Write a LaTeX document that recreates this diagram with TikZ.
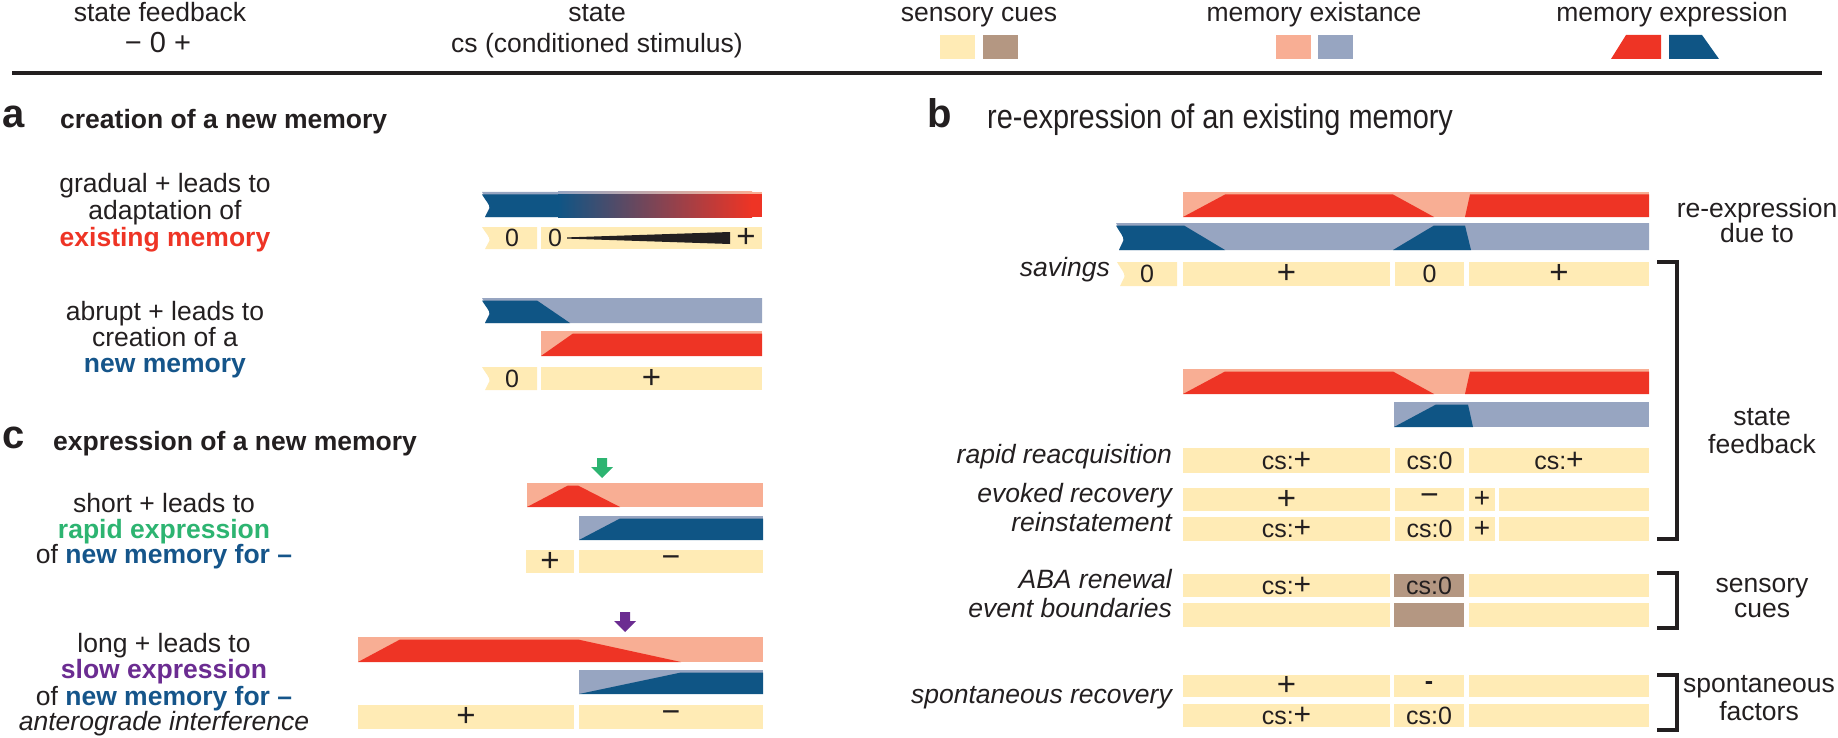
\documentclass[tikz,border=0pt]{standalone}
\usepackage{fontspec}
\setmainfont{Liberation Sans}
\newfontfamily\narrowfont[FakeStretch=0.85]{Liberation Sans}
\definecolor{beige}{HTML}{FFEBB5}
\definecolor{cuebrown}{HTML}{B49782}
\definecolor{salmon}{HTML}{F8AE94}
\definecolor{bgray}{HTML}{97A5C1}
\definecolor{memred}{HTML}{EE3425}
\definecolor{memblue}{HTML}{0F5585}
\definecolor{txtblue}{HTML}{15558A}
\definecolor{txtgreen}{HTML}{2DB471}
\definecolor{txtpurple}{HTML}{6B2C91}
\definecolor{ink}{HTML}{231F20}
\newcommand\fs[1]{\fontsize{#1}{#1}\selectfont}
\newcommand\bigplus{{\fs{33}+}}
\newcommand\bigminus{{\fs{32}−}}
\newcommand\csplus{cs:{\fs{30}+}}
% notched left edge from (x,top) down to (x+3,bottom)
\newcommand\npath[3]{(#1,#2) .. controls ({#1+4},{#2+0.3*(#3-#2)}) and ({#1+8},{#2+0.45*(#3-#2)}) .. ({#1+7.5},{#2+0.62*(#3-#2)}) .. controls ({#1+6},{#2+0.82*(#3-#2)}) .. ({#1+3},#3)}
% cue box with label: [colour]{x0}{y0}{x1}{y1}{name}{text}
\newcommand\cbox[7][beige]{\fill[#1] (#2,#3) rectangle (#4,#5); \node[boxlbl] (#6) at ({(#2+#4)/2},{(#3+#5)/2}) {#7};}
\tikzset{
  txt/.style={inner sep=0pt, anchor=base, text=ink, font=\fs{26.5}},
  hdr/.style={inner sep=0pt, anchor=base west, text=ink, font=\fs{26.5}\bfseries},
  plet/.style={inner sep=0pt, anchor=base west, text=ink, font=\fs{40}\bfseries},
  lbl/.style={inner sep=0pt, anchor=mid east, text=ink, font=\fs{26.5}\itshape},
  boxlbl/.style={inner sep=0pt, anchor=center, text=ink, font=\fs{25}},
  brk/.style={draw=ink, line width=4pt, line join=miter},
}
\begin{document}
\begin{tikzpicture}[x=1pt,y=-1pt]
\useasboundingbox (0,0) rectangle (1838,738);
% ---------------- legend ----------------
\node[txt] (lsf) at (160,22) {state feedback};
\node[txt,font=\fs{29}] (lsfv) at (158,53) {− 0 +};
\node[txt] (lst) at (597,22) {state};
\node[txt] (lcs) at (597,53) {cs (conditioned stimulus)};
\node[txt] (lsc) at (979,22) {sensory cues};
\fill[beige] (940,35) rectangle (975,59);
\fill[cuebrown] (983,35) rectangle (1018,59);
\node[txt] (lme) at (1314,22) {memory existance};
\fill[salmon] (1276,35) rectangle (1311,59);
\fill[bgray] (1318,35) rectangle (1353,59);
\node[txt] (lmx) at (1672,22) {memory expression};
\fill[memred] (1611,59) -- (1626,35) -- (1661,35) -- (1661,59) -- cycle;
\fill[memblue] (1669,35) -- (1702,35) -- (1719,59) -- (1669,59) -- cycle;
\draw[line width=4pt, ink] (12,73) -- (1822,73);
% ---------------- panel a ----------------
\node[plet] (pa) at (2,128) {a};
\node[hdr] (ha) at (60,129) {creation of a new memory};
\node[txt] (a1) at (165,193) {gradual + leads to};
\node[txt] (a2) at (165,219) {adaptation of};
\node[txt,font=\fs{26.5}\bfseries,text=memred] (a3) at (165,246) {existing memory};
\node[txt] (a4) at (165,320) {abrupt + leads to};
\node[txt] (a5) at (165,346) {creation of a};
\node[txt,font=\fs{26.5}\bfseries,text=txtblue] (a6) at (165,372) {new memory};
% gradient bar
\fill[bgray] \npath{482}{192}{217} -- (560,217) -- (560,192) -- cycle;
\shade[left color=bgray, right color=salmon] (558,192) rectangle (752,195);
\fill[salmon] (751,192) rectangle (762,195);
\fill[memblue] \npath{482}{194.5}{217} -- (560,217) -- (560,194.5) -- cycle;
\shade[left color=memblue, right color=memred] (558,194.5) rectangle (752,217);
\fill[memred] (751,194.5) rectangle (762,217);
\fill[beige] \npath{482}{227}{249} -- (537,249) -- (537,227) -- cycle;
\node[boxlbl] (ag0) at (512,238) {0};
\fill[beige] (541,227) rectangle (762,249);
\node[boxlbl] (ag1) at (555,238) {0};
\fill[ink] (567,237.4) -- (730,232) -- (730,244) -- (567,238.6) -- cycle;
\node[boxlbl] (ag2) at (746,238) {\bigplus};
% abrupt
\fill[bgray] \npath{482}{298}{323} -- (762,323) -- (762,298) -- cycle;
\fill[memblue] \npath{482}{300.5}{323} -- (570,323) -- (537,300.5) -- cycle;
\fill[salmon] (541,331) rectangle (762,356);
\fill[memred] (541,356) -- (573,333.5) -- (762,333.5) -- (762,356) -- cycle;
\fill[beige] \npath{482}{367}{390} -- (537,390) -- (537,367) -- cycle;
\node[boxlbl] (ab0) at (512,378.5) {0};
\cbox{541}{367}{762}{390}{ab1}{\bigplus}
% ---------------- panel c ----------------
\node[plet] (pc) at (2,448) {c};
\node[hdr] (hc) at (53,450) {expression of a new memory};
\node[txt] (c1) at (164,512) {short + leads to};
\node[txt,font=\fs{26.5}\bfseries,text=txtgreen] (c2) at (164,538) {rapid expression};
\node[txt] (c3) at (164,563) {of \textbf{\color{txtblue}new memory for –}};
\node[txt] (c4) at (164,652) {long + leads to};
\node[txt,font=\fs{26.5}\bfseries,text=txtpurple] (c5) at (164,678) {slow expression};
\node[txt] (c6) at (164,705) {of \textbf{\color{txtblue}new memory for –}};
\node[txt,font=\fs{26.5}\itshape] (c7) at (164,730) {anterograde interference};
% short
\fill[txtgreen] (597,458) -- (607,458) -- (607,467) -- (613,467) -- (602,478) -- (591,467) -- (597,467) -- cycle;
\fill[salmon] (527,483) rectangle (763,507);
\fill[memred] (527,507) -- (568,485.5) -- (578,485.5) -- (620,507) -- cycle;
\fill[bgray] (579,516) rectangle (763,540);
\fill[memblue] (579,540) -- (620,518.5) -- (763,518.5) -- (763,540) -- cycle;
\cbox{526}{550}{574}{573}{cs1}{\bigplus}
\cbox{579}{550}{763}{573}{cs2}{\bigminus}
% long
\fill[txtpurple] (620,612) -- (630,612) -- (630,621) -- (636,621) -- (625,632) -- (614,621) -- (620,621) -- cycle;
\fill[salmon] (358,637) rectangle (763,662);
\fill[memred] (358,662) -- (400,639.5) -- (578,639.5) -- (681,662) -- cycle;
\fill[bgray] (579,670) rectangle (763,694);
\fill[memblue] (579,694) -- (681,672.5) -- (763,672.5) -- (763,694) -- cycle;
\cbox{358}{705}{574}{729}{cl1}{\bigplus}
\cbox{579}{705}{763}{729}{cl2}{\bigminus}
% ---------------- panel b ----------------
\node[plet] (pb) at (927,128) {b};
\node[txt,anchor=base west,font=\narrowfont\fs{34}] (hb) at (987,129) {re-expression of an existing memory};
\node[txt] (r1) at (1757,217) {re-expression};
\node[txt] (r2) at (1757,242) {due to};
\node[txt] (r3) at (1762,425) {state};
\node[txt] (r4) at (1762,453) {feedback};
\node[txt] (r5) at (1762,592) {sensory};
\node[txt] (r6) at (1762,617) {cues};
\node[txt] (r7) at (1759,692) {spontaneous};
\node[txt] (r8) at (1759,720) {factors};
\draw[brk] (1657,262) -- (1677,262) -- (1677,539) -- (1657,539);
\draw[brk] (1657,573) -- (1677,573) -- (1677,628) -- (1657,628);
\draw[brk] (1657,675) -- (1677,675) -- (1677,730) -- (1657,730);
% group 1
\fill[salmon] (1183,192) rectangle (1649,217);
\fill[memred] (1183,217) -- (1225,194.5) -- (1393,194.5) -- (1434,217) -- cycle;
\fill[memred] (1465,217) -- (1470,194.5) -- (1649,194.5) -- (1649,217) -- cycle;
\fill[bgray] \npath{1116}{223}{250} -- (1649,250) -- (1649,223) -- cycle;
\fill[memblue] \npath{1116}{225.5}{250} -- (1225,250) -- (1184,225.5) -- cycle;
\fill[memblue] (1393,250) -- (1434,225.5) -- (1465,225.5) -- (1471,250) -- cycle;
\node[lbl] (lsav) at (1110,274) {savings};
\fill[beige] \npath{1117}{262}{286} -- (1177,286) -- (1177,262) -- cycle;
\node[boxlbl] (sv0) at (1147,274) {0};
\cbox{1183}{262}{1390}{286}{sv1}{\bigplus}
\cbox{1395}{262}{1464}{286}{sv2}{0}
\cbox{1469}{262}{1649}{286}{sv3}{\bigplus}
% group 2
\fill[salmon] (1183,369) rectangle (1649,394);
\fill[memred] (1183,394) -- (1225,371.5) -- (1393,371.5) -- (1434,394) -- cycle;
\fill[memred] (1465,394) -- (1470,371.5) -- (1649,371.5) -- (1649,394) -- cycle;
\fill[bgray] (1394,402) rectangle (1649,427);
\fill[memblue] (1394,427) -- (1436,404.5) -- (1468,404.5) -- (1473,427) -- cycle;
\node[lbl] (lrr) at (1172,460.5) {rapid reacquisition};
\cbox{1183}{448}{1390}{473}{rr1}{\csplus}
\cbox{1395}{448}{1464}{473}{rr2}{cs:0}
\cbox{1469}{448}{1649}{473}{rr3}{\csplus}
\node[lbl] (ler) at (1172,499.5) {evoked recovery};
\cbox{1183}{488}{1390}{511}{er1}{\bigplus}
\cbox{1395}{488}{1464}{511}{er2}{\bigminus}
\cbox{1469}{488}{1495}{511}{er3}{{\fs{28}+}}
\fill[beige] (1499,488) rectangle (1649,511);
\node[lbl] (lri) at (1172,529) {reinstatement};
\cbox{1183}{517}{1390}{541}{ri1}{\csplus}
\cbox{1395}{517}{1464}{541}{ri2}{cs:0}
\cbox{1469}{517}{1495}{541}{ri3}{{\fs{28}+}}
\fill[beige] (1499,517) rectangle (1649,541);
\node[lbl] (laba) at (1172,585.5) {ABA renewal};
\cbox{1183}{574}{1390}{597}{ab1b}{\csplus}
\cbox[cuebrown]{1394}{574}{1464}{597}{ab2b}{cs:0}
\fill[beige] (1469,574) rectangle (1649,597);
\node[lbl] (leb) at (1172,615) {event boundaries};
\fill[beige] (1183,603) rectangle (1390,627);
\fill[cuebrown] (1394,603) rectangle (1464,627);
\fill[beige] (1469,603) rectangle (1649,627);
\node[lbl] (lspr) at (1172,701) {spontaneous recovery};
\cbox{1183}{675}{1390}{697}{sp1}{\bigplus}
\cbox{1394}{675}{1464}{697}{sp2}{\bfseries -}
\fill[beige] (1469,675) rectangle (1649,697);
\cbox{1183}{704}{1390}{727}{sp3}{\csplus}
\cbox{1394}{704}{1464}{727}{sp4}{cs:0}
\fill[beige] (1469,704) rectangle (1649,727);
\end{tikzpicture}
\end{document}
